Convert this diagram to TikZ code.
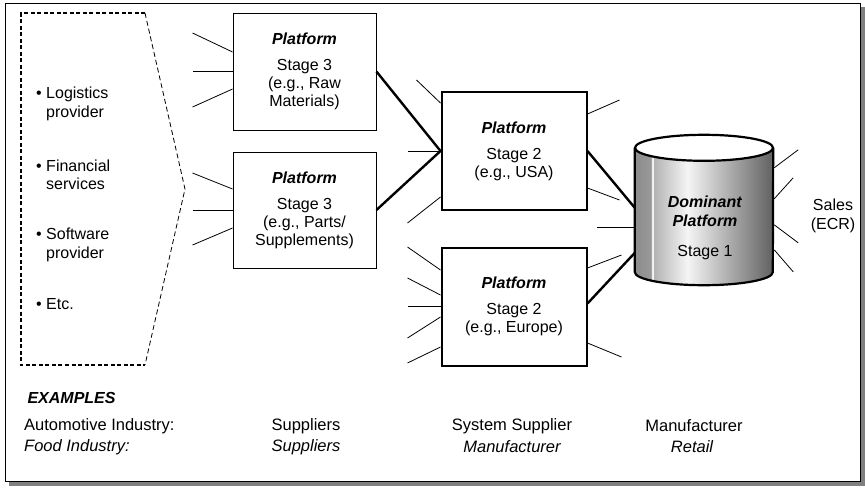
\documentclass[tikz,border=0pt]{standalone}
\usepackage{fontspec}
\setmainfont{Liberation Sans}
\usetikzlibrary{calc}

% horizontal shading of the cylinder body (inner 25bp..75bp maps onto the body)
\pgfdeclarehorizontalshading{cylbody}{100bp}{%
  color(0bp)=(black!45); color(25bp)=(black!45); color(31bp)=(black!40);
  color(31.2bp)=(white); color(31.6bp)=(white); color(31.8bp)=(black!30);
  color(44bp)=(black!4); color(75bp)=(black!62); color(100bp)=(black!62)}

\tikzset{
  txt/.style={font=\fontsize{16}{18.5}\selectfont, inner sep=0pt},
  stagebox/.style={draw, line width=0.9pt, fill=white, align=center,
    font=\fontsize{16}{18}\selectfont, inner sep=0pt},
  midbox/.style={stagebox, line width=2pt},
  spoke/.style={line width=0.8pt},
  link/.style={line width=2.4pt},
  title/.style={font=\fontsize{16}{18}\selectfont\bfseries\itshape},
  rowtxt/.style={font=\fontsize{16.5}{18}\selectfont, inner sep=0pt},
}

\begin{document}
\begin{tikzpicture}[x=1pt, y=-1pt]
\useasboundingbox (0,0) rectangle (865,488);

% frame with drop shadow
\fill[black!50] (9,7) rectangle (865,486);
\draw[line width=0.9pt, fill=white] (5,3) rectangle (860,481);

% partner services (dashed arrow outline)
\draw[line width=1.4pt, dash pattern=on 4pt off 2.5pt]
  (145,13) -- (21,13) -- (21,365) -- (145,365);
\draw[line width=0.8pt, dash pattern=on 5pt off 3pt]
  (145,13) -- (185,189) -- (145,365);
\node[txt, anchor=west, align=left] (b1) at (36,104)
  {\textbullet\ Logistics\\\phantom{\textbullet\ }provider};
\node[txt, anchor=west, align=left] (b2) at (36,175)
  {\textbullet\ Financial\\\phantom{\textbullet\ }services};
\node[txt, anchor=west, align=left] (b3) at (36,245)
  {\textbullet\ Software\\\phantom{\textbullet\ }provider};
\node[txt, anchor=west, align=left] (b4) at (36,304) {\textbullet\ Etc.};

% platforms
\node[stagebox, minimum width=143pt, minimum height=117pt] (s3a) at (304.5,71.5)
  {\textbf{\textit{Platform}}\\[8pt]Stage 3\\(e.g., Raw\\Materials)};
\node[stagebox, minimum width=143pt, minimum height=116pt] (s3b) at (304.5,210)
  {\textbf{\textit{Platform}}\\[8pt]Stage 3\\(e.g., Parts/\\Supplements)};
\node[midbox, minimum width=145pt, minimum height=118pt] (usa) at (514,151)
  {\textbf{\textit{Platform}}\\[8pt]Stage 2\\(e.g., USA)};
\node[midbox, minimum width=145pt, minimum height=118pt] (eur) at (514,306.5)
  {\textbf{\textit{Platform}}\\[8pt]Stage 2\\(e.g., Europe)};

% dominant platform: cylinder
\node[minimum width=138pt, minimum height=124pt, inner sep=0pt] (cyl) at (704,210) {};
\path[shading=cylbody]
  (cyl.north west) -- (cyl.south west)
  arc[start angle=180, end angle=360, x radius=69pt, y radius=13pt]
  -- (cyl.north east) -- cycle;
\draw[line width=2.2pt, line join=round]
  (cyl.north west) -- (cyl.south west)
  arc[start angle=180, end angle=360, x radius=69pt, y radius=13pt]
  -- (cyl.north east);
\draw[line width=2.2pt, fill=white] (cyl.north) ellipse[x radius=69pt, y radius=13pt];
\node[txt, align=center] (cyltxt) at (705,228)
  {\textbf{\textit{Dominant}}\\\textbf{\textit{Platform}}\\[12pt]Stage 1};
\node[txt, align=center] (sales) at (833,216) {Sales\\(ECR)};

% thick links between platforms
\draw[link] (s3a.east) -- (usa.west);
\draw[link] (s3b.east) -- (usa.west);
\draw[link] (usa.east) -- ($(cyl.north west)+(0,60)$);
\draw[link] ($(eur.east)+(0,-3)$) -- ($(cyl.north west)+(0,105)$);

% thin spokes
\draw[spoke] ($(s3a.west)+(0,-19.5)$) -- ++(-40,-19);
\draw[spoke] (s3a.west) -- ++(-40,0);
\draw[spoke] ($(s3a.west)+(0,17.5)$) -- ++(-40,18);
\draw[spoke] ($(s3b.west)+(0,-21)$) -- ++(-40,-16);
\draw[spoke] (s3b.west) -- ++(-40,0);
\draw[spoke] ($(s3b.west)+(0,18)$) -- ++(-40,17);

\draw[spoke] ($(usa.west)+(0,-48)$) -- ++(-24,-23);
\draw[spoke] (usa.west) -- ++(-33,0);
\draw[spoke] ($(usa.west)+(0,46)$) -- ++(-33,26);
\draw[spoke] ($(usa.east)+(0,-37)$) -- ++(32,-14);
\draw[spoke] ($(usa.east)+(0,37)$) -- ++(32,12);

\draw[spoke] ($(eur.west)+(0,-36.5)$) -- ++(-33,-23);
\draw[spoke] ($(eur.west)+(0,-11.5)$) -- ++(-33,-17);
\draw[spoke] (eur.west) -- ++(-33,0);
\draw[spoke] ($(eur.west)+(0,10.5)$) -- ++(-33,21);
\draw[spoke] ($(eur.west)+(0,40.5)$) -- ++(-33,16);
\draw[spoke] ($(eur.east)+(0,-38.5)$) -- ++(34,-13);
\draw[spoke] ($(eur.east)+(0,36.5)$) -- ++(34,14);

\draw[spoke] ($(cyl.north west)+(0,80)$) -- ++(-38,0);
\draw[spoke] ($(cyl.north east)+(1,20)$) -- ++(24,-18);
\draw[spoke] ($(cyl.north east)+(1,51)$) -- ++(19,-21);
\draw[spoke] ($(cyl.north east)+(1,77)$) -- ++(24,18);
\draw[spoke] ($(cyl.north east)+(1,102)$) -- ++(19,22);

% examples
\node[title, anchor=west] (ex) at (24,398) {EXAMPLES};
\node[rowtxt, anchor=west] (auto) at (24,426) {Automotive Industry:};
\node[rowtxt, anchor=west] (food) at (24,447) {\itshape Food Industry:};
\node[rowtxt] (a1) at (306,426) {Suppliers};
\node[rowtxt] (a2) at (512,426) {System Supplier};
\node[rowtxt] (a3) at (694,426) {Manufacturer};
\node[rowtxt] (f1) at (306,447) {\itshape Suppliers};
\node[rowtxt] (f2) at (512,447) {\itshape Manufacturer};
\node[rowtxt] (f3) at (692,447) {\itshape Retail};
\end{tikzpicture}
\end{document}
